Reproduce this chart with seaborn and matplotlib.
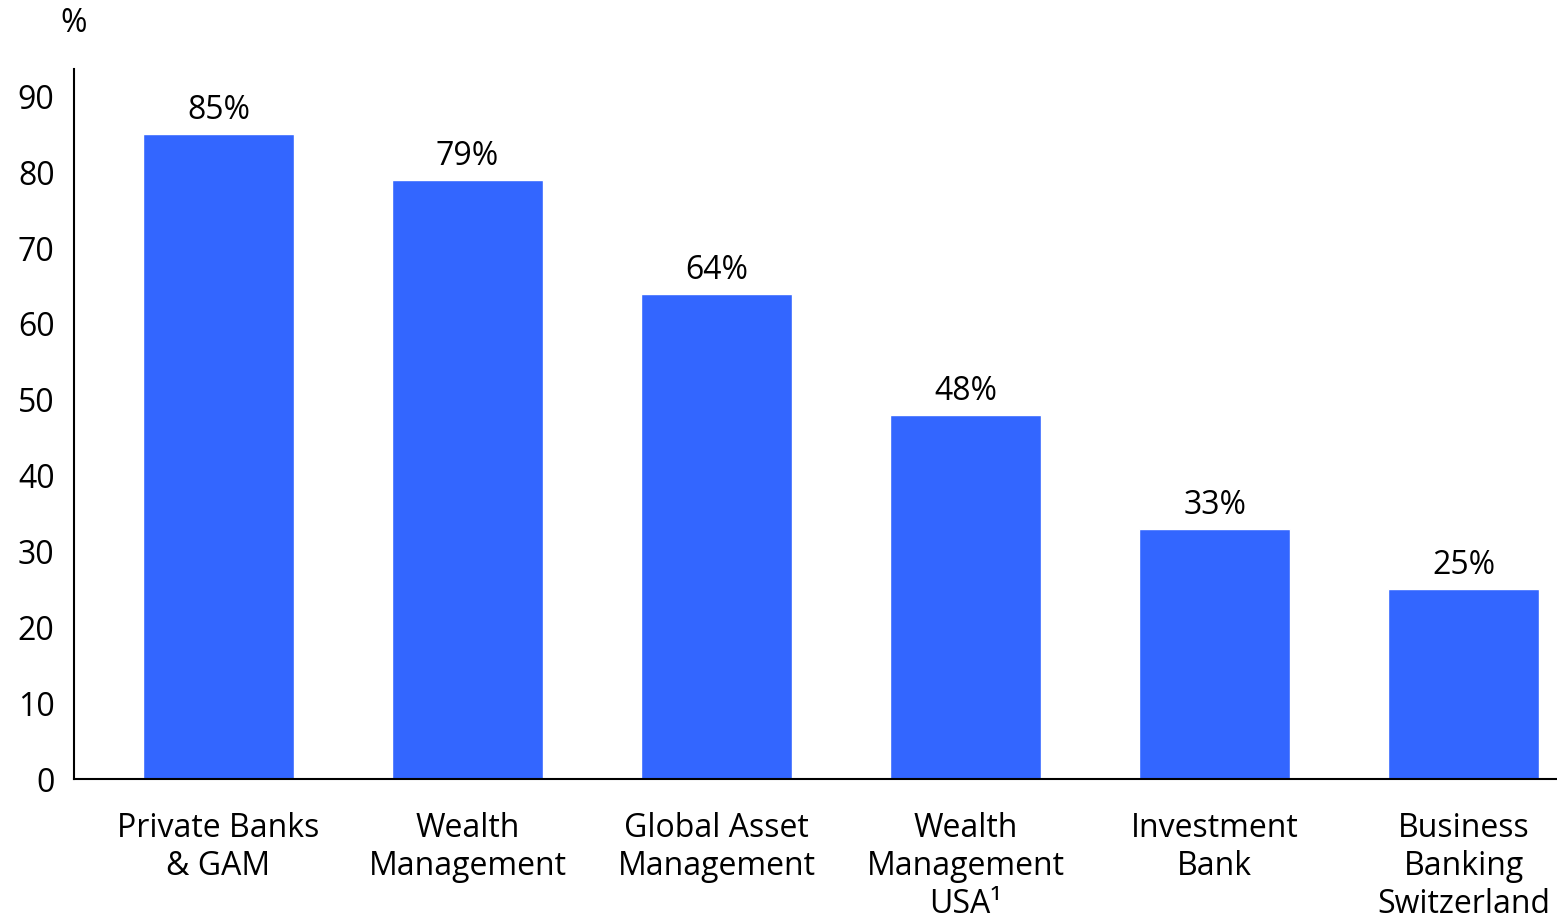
import matplotlib
matplotlib.use("Agg")
import matplotlib.pyplot as plt
import seaborn as sns
import pandas as pd

CATEGORIES = [
    "Private Banks\n& GAM",
    "Wealth\nManagement",
    "Global Asset\nManagement",
    "Wealth\nManagement\nUSA\u00b9",
    "Investment\nBank",
    "Business\nBanking\nSwitzerland",
]
VALUES = [85, 79, 64, 48, 33, 25]
Y_TICKS = [0, 10, 20, 30, 40, 50, 60, 70, 80, 90]

BAR_COLOR = "#3366FF"

sns.set_style("white")
plt.rcParams["font.family"] = ["Open Sans", "DejaVu Sans"]

df = pd.DataFrame({"segment": CATEGORIES, "value": VALUES})

fig = plt.figure(figsize=(15.57, 9.19), dpi=100)
ax = fig.add_axes([0.0475, 0.1523, 0.9525, 0.7726])

sns.barplot(data=df, x="segment", y="value", color=BAR_COLOR,
            width=0.607, saturation=1, ax=ax)

ax.bar_label(ax.containers[0], labels=[f"{v}%" for v in VALUES],
             padding=5, fontsize=23, color="black")

ax.set_xlim(-0.58, 5.375)
ax.set_ylim(0, 93.6)
ax.set_yticks(Y_TICKS)
ax.tick_params(axis="both", length=0, labelsize=23, colors="black")
ax.tick_params(axis="x", pad=24)
ax.tick_params(axis="y", pad=14)
ax.set_xlabel("")
ax.set_ylabel("")
for lbl in ax.get_xticklabels():
    lbl.set_linespacing(1.2)

for side in ["top", "right"]:
    ax.spines[side].set_visible(False)
for side in ["left", "bottom"]:
    ax.spines[side].set_color("black")
    ax.spines[side].set_linewidth(1.5)

fig.text(74 / 1557, 1 - 24 / 919, "%", ha="center", va="center",
         fontsize=23, color="black")

fig.savefig("out.png", dpi=100)
plt.close(fig)
